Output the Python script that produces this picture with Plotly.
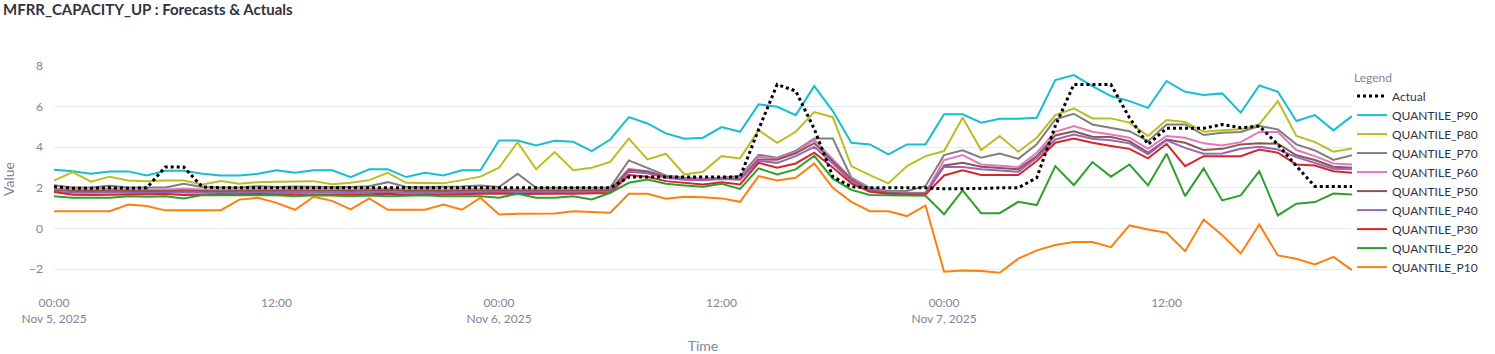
import pandas as pd
import plotly.graph_objects as go

times = pd.date_range("2025-11-05 00:00", periods=71, freq="h")

actual = [2.05, 1.98, 1.98, 2.0, 1.98, 2.0, 3.02, 3.02, 2.04, 2.0, 2.0, 2.0, 2.0,
          2.0, 2.0, 2.0, 2.0, 2.0, 2.0, 2.0, 2.0, 2.0, 2.0, 2.0,
          2.0, 2.0, 2.0, 2.0, 2.0, 2.0, 2.0, 2.53, 2.53, 2.53, 2.53, 2.53, 2.53, 2.53,
          4.88, 7.09, 6.77, 4.9, 2.55, 2.05, 2.0, 2.0, 2.0, 2.0, 1.95, 1.95, 1.97, 2.0,
          2.0, 2.5, 5.05, 7.09, 7.09, 7.09, 5.45, 4.14, 4.93, 4.93, 4.93, 5.12, 4.96,
          5.04, 4.14, 3.07, 2.07, 2.07, 2.07]

p90 = [2.89, 2.82, 2.69, 2.81, 2.81, 2.61, 2.84, 2.84, 2.69, 2.61, 2.61, 2.69, 2.86,
       2.74, 2.86, 2.86, 2.53, 2.91, 2.91, 2.53, 2.74, 2.61, 2.86, 2.86,
       4.33, 4.33, 4.09, 4.32, 4.27, 3.81, 4.38, 5.48, 5.17, 4.68, 4.42, 4.47, 4.99, 4.76,
       6.11, 5.99, 5.58, 7.01, 5.78, 4.22, 4.14, 3.65, 4.14, 4.14, 5.62, 5.62, 5.21, 5.40,
       5.40, 5.45, 7.31, 7.55, 7.01, 6.52, 6.27, 5.94, 7.26, 6.73, 6.57, 6.65, 5.70,
       7.04, 6.73, 5.29, 5.58, 4.83, 5.53]

p80 = [2.36, 2.78, 2.30, 2.55, 2.36, 2.33, 2.36, 2.36, 2.17, 2.33, 2.20, 2.28, 2.30,
       2.30, 2.33, 2.18, 2.25, 2.38, 2.74, 2.25, 2.22, 2.22, 2.38, 2.55,
       2.99, 4.25, 2.91, 3.76, 2.87, 2.99, 3.28, 4.43, 3.40, 3.68, 2.66, 2.79, 3.56, 3.45,
       4.84, 4.22, 4.76, 5.73, 5.48, 3.07, 2.63, 2.22, 3.07, 3.56, 3.81, 5.45, 3.86, 4.55,
       3.78, 4.47, 5.58, 5.91, 5.42, 5.42, 5.21, 4.55, 5.34, 5.24, 4.76, 4.84, 4.88,
       5.12, 6.27, 4.55, 4.25, 3.78, 3.94]

p70 = [2.13, 2.02, 2.02, 2.10, 2.02, 2.02, 2.02, 2.20, 2.04, 2.02, 2.02, 2.08, 2.04,
       2.06, 2.04, 2.04, 2.04, 2.08, 2.28, 2.04, 2.04, 2.04, 2.06, 2.12,
       2.04, 2.69, 2.0, 2.0, 2.0, 2.0, 2.02, 3.35, 2.99, 2.61, 2.50, 2.45, 2.50, 2.58,
       3.63, 3.48, 3.82, 4.43, 4.43, 2.50, 2.0, 1.84, 1.84, 2.09, 3.61, 3.85, 3.48, 3.69,
       3.43, 4.14, 5.37, 5.65, 5.12, 4.96, 4.79, 4.30, 5.12, 5.12, 4.60, 4.71, 4.75,
       5.04, 4.88, 4.14, 3.84, 3.37, 3.61]

p60 = [1.97, 1.92, 1.92, 1.95, 1.92, 1.90, 1.92, 1.95, 1.92, 1.90, 1.92, 1.95, 1.92,
       1.95, 1.97, 1.95, 1.92, 1.95, 1.97, 1.92, 1.95, 1.92, 1.95, 1.95,
       1.93, 1.92, 1.93, 1.92, 1.92, 1.93, 1.95, 2.94, 2.82, 2.58, 2.45, 2.42, 2.50, 2.47,
       3.53, 3.45, 3.76, 4.36, 3.40, 2.45, 1.95, 1.79, 1.76, 1.76, 3.37, 3.61, 3.15, 3.10,
       3.02, 3.73, 4.76, 5.04, 4.76, 4.63, 4.47, 3.92, 4.55, 4.47, 4.19, 4.09, 4.25,
       4.75, 4.75, 3.86, 3.56, 3.20, 3.15]

p50 = [1.88, 1.84, 1.84, 1.86, 1.84, 1.83, 1.84, 1.86, 1.84, 1.83, 1.84, 1.86, 1.85,
       1.86, 1.87, 1.86, 1.84, 1.86, 1.88, 1.84, 1.86, 1.84, 1.86, 1.86,
       1.86, 1.85, 1.86, 1.85, 1.85, 1.86, 1.88, 2.88, 2.80, 2.55, 2.42, 2.39, 2.46, 2.42,
       3.40, 3.38, 3.70, 4.20, 3.30, 2.41, 1.89, 1.76, 1.72, 1.72, 3.10, 3.23, 3.04, 2.99,
       2.91, 3.56, 4.58, 4.79, 4.52, 4.50, 4.30, 3.73, 4.38, 4.22, 3.86, 3.92, 4.14,
       4.19, 4.17, 3.60, 3.37, 3.04, 2.99]

p40 = [1.80, 1.76, 1.76, 1.78, 1.76, 1.75, 1.76, 1.78, 1.76, 1.75, 1.77, 1.78, 1.77,
       1.78, 1.79, 1.78, 1.76, 1.78, 1.80, 1.76, 1.78, 1.76, 1.78, 1.78,
       1.79, 1.78, 1.79, 1.78, 1.78, 1.79, 1.81, 2.79, 2.72, 2.50, 2.40, 2.37, 2.43, 2.40,
       3.32, 3.23, 3.56, 4.02, 3.20, 2.33, 1.87, 1.72, 1.72, 1.72, 3.04, 3.02, 2.91, 2.86,
       2.79, 3.48, 4.38, 4.63, 4.42, 4.34, 4.19, 3.65, 4.34, 3.97, 3.68, 3.69, 3.92,
       4.02, 3.89, 3.51, 3.23, 2.94, 2.91]

p30 = [1.80, 1.66, 1.65, 1.66, 1.67, 1.67, 1.70, 1.65, 1.67, 1.67, 1.69, 1.70, 1.69,
       1.68, 1.70, 1.69, 1.67, 1.69, 1.71, 1.66, 1.69, 1.67, 1.69, 1.70,
       1.72, 1.70, 1.72, 1.71, 1.71, 1.72, 1.74, 2.63, 2.55, 2.33, 2.25, 2.17, 2.28, 2.17,
       3.23, 2.99, 3.20, 3.73, 3.00, 2.22, 1.81, 1.71, 1.67, 1.67, 2.61, 2.87, 2.63, 2.63,
       2.63, 3.32, 4.22, 4.43, 4.22, 4.06, 3.92, 3.45, 4.17, 3.07, 3.56, 3.56, 3.56,
       3.89, 3.73, 3.15, 3.10, 2.82, 2.74]

p20 = [1.58, 1.51, 1.51, 1.51, 1.59, 1.56, 1.59, 1.48, 1.64, 1.64, 1.64, 1.62, 1.64,
       1.59, 1.64, 1.62, 1.59, 1.62, 1.59, 1.61, 1.64, 1.59, 1.59, 1.59,
       1.51, 1.71, 1.51, 1.51, 1.59, 1.43, 1.76, 2.25, 2.41, 2.20, 2.12, 2.05, 2.20, 1.95,
       2.96, 2.66, 2.91, 3.58, 2.45, 1.90, 1.65, 1.63, 1.63, 1.61, 0.70, 1.87, 0.75, 0.75,
       1.31, 1.15, 3.07, 2.13, 3.27, 2.55, 3.15, 2.12, 3.68, 1.59, 2.96, 1.38, 1.63,
       2.82, 0.64, 1.22, 1.30, 1.72, 1.67]

p10 = [0.85, 0.85, 0.85, 0.85, 1.18, 1.10, 0.89, 0.89, 0.92, 0.90, 1.42, 1.51, 1.26,
       0.92, 1.56, 1.36, 0.94, 1.48, 0.92, 0.92, 0.92, 1.18, 0.92, 1.51,
       0.69, 0.72, 0.74, 0.74, 0.85, 0.80, 0.77, 1.71, 1.71, 1.46, 1.56, 1.54, 1.48, 1.31,
       2.58, 2.36, 2.50, 3.20, 2.00, 1.31, 0.85, 0.85, 0.61, 1.13, -2.13, -2.07, -2.10, -2.18,
       -1.49, -1.08, -0.82, -0.67, -0.67, -0.92, 0.15, -0.05, -0.21, -1.12, 0.44, -0.33, -1.23,
       0.20, -1.33, -1.49, -1.77, -1.40, -2.05]

quantiles = [
    ("QUANTILE_P90", p90, "#17becf"),
    ("QUANTILE_P80", p80, "#bcbd22"),
    ("QUANTILE_P70", p70, "#7f7f7f"),
    ("QUANTILE_P60", p60, "#e377c2"),
    ("QUANTILE_P50", p50, "#8c564b"),
    ("QUANTILE_P40", p40, "#9467bd"),
    ("QUANTILE_P30", p30, "#d62728"),
    ("QUANTILE_P20", p20, "#2ca02c"),
    ("QUANTILE_P10", p10, "#ff7f0e"),
]

FONT = "Lato"
GREY = "#808495"

fig = go.Figure()
for i, (name, vals, col) in enumerate(quantiles):
    fig.add_trace(go.Scatter(x=times, y=vals, mode="lines", name=name,
                             line=dict(color=col, width=2), legendrank=2 + i))
fig.add_trace(go.Scatter(x=times, y=actual, mode="lines", name="Actual",
                         line=dict(color="black", width=3, dash="dot"), legendrank=1))

fig.update_layout(
    width=1495, height=354,
    margin=dict(l=54, r=143, t=66, b=62),
    paper_bgcolor="white", plot_bgcolor="white",
    font=dict(family=FONT, size=12, color=GREY),
    title=dict(text="<b>MFRR_CAPACITY_UP : Forecasts & Actuals</b>",
               font=dict(family=FONT, size=15, color="#31333F"),
               xref="container", x=0.002, xanchor="left",
               yref="container", y=0.972, yanchor="middle"),
    legend=dict(title=dict(text="Legend", font=dict(family=FONT, color=GREY, size=12)),
                x=1.0, xanchor="left", y=1.0, yanchor="top",
                font=dict(family=FONT, color="#31333F", size=12),
                bgcolor="rgba(0,0,0,0)", borderwidth=0),
    showlegend=True,
)
try:
    fig.update_layout(legend_maxheight=320)
except Exception:
    pass

fig.update_xaxes(title=dict(text="Time", font=dict(size=14, color=GREY), standoff=16),
                 showgrid=False, zeroline=False, showline=False, automargin=False,
                 dtick=12 * 3600 * 1000, tick0="2025-11-05 00:00",
                 tickfont=dict(color=GREY, size=12), ticks="", ticklabelstandoff=2)
fig.update_yaxes(title=dict(text="Value", font=dict(size=14, color=GREY), standoff=12),
                 range=[-3.13, 8.0], dtick=2, showgrid=True, gridcolor="#e6eaf1",
                 zeroline=False, showline=False, automargin=False, ticklabelstandoff=10,
                 tickfont=dict(color=GREY, size=12))

fig.write_html("out.html")
